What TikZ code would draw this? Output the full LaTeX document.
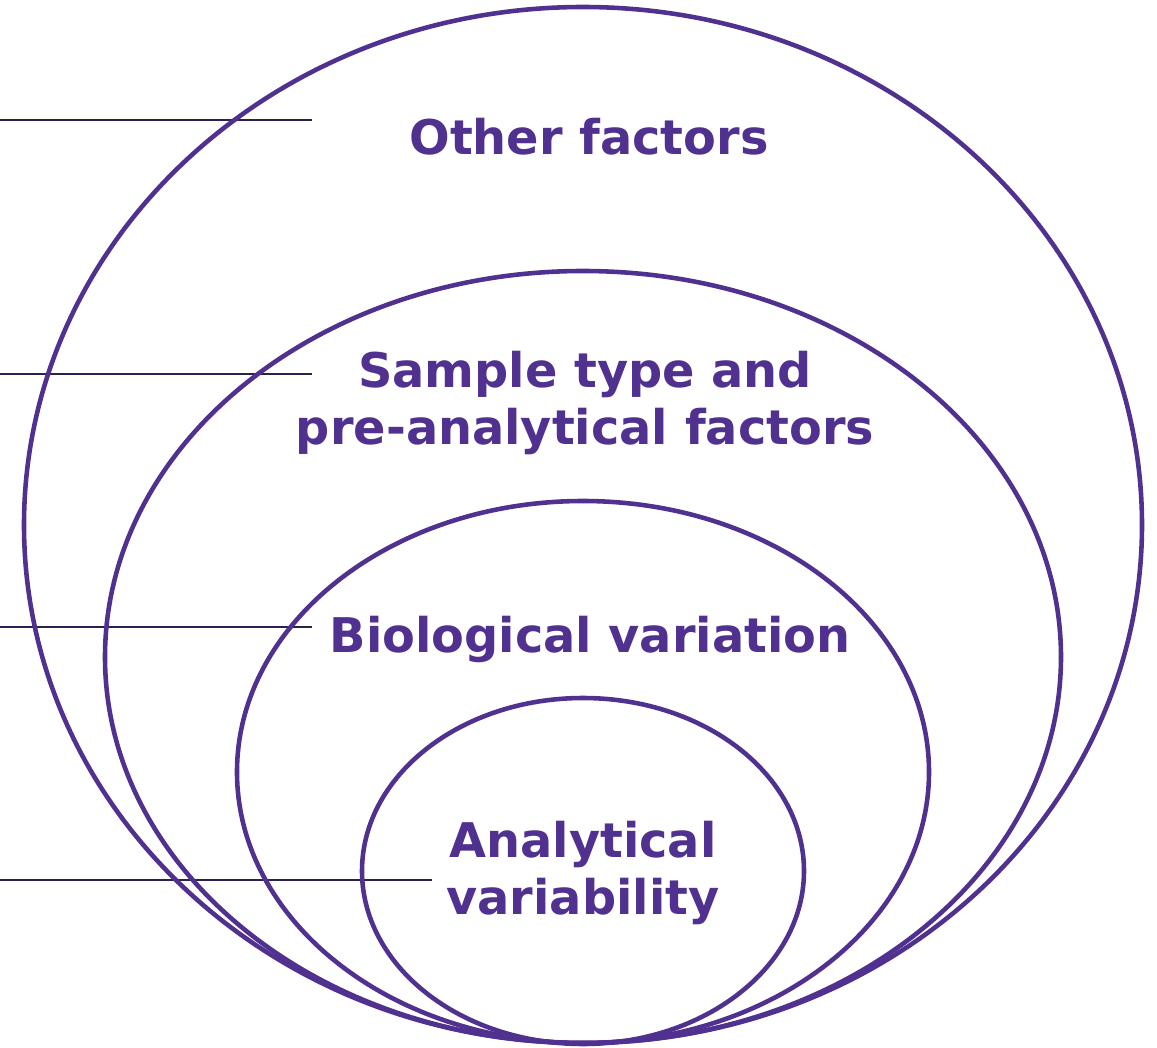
\documentclass[tikz,border=0pt]{standalone}
\usepackage{fontspec}
\setmainfont{DejaVu Sans}
\definecolor{ringpurple}{HTML}{51318F}
\definecolor{leaderline}{HTML}{2B2150}
\tikzset{
  ring/.style={draw=ringpurple, line width=1.3pt},
  leader/.style={draw=leaderline, line width=0.55pt},
  label/.style={text=ringpurple, font=\bfseries\fontsize{13.6}{16}\selectfont, align=center}
}
\begin{document}
\begin{tikzpicture}

  \useasboundingbox (0,0) rectangle (11.57,10.47);

  \coordinate (l1) at (0,9.27);
  \coordinate (l2) at (0,6.73);
  \coordinate (l3) at (0,4.20);
  \coordinate (l4) at (0,1.67);
  \coordinate (e1) at (3.12,9.27);
  \coordinate (e2) at (3.12,6.73);
  \coordinate (e3) at (3.12,4.20);
  \coordinate (e4) at (4.32,1.67);

  \draw[leader] (l1) -- (e1);
  \draw[leader] (l2) -- (e2);
  \draw[leader] (l3) -- (e3);
  \draw[leader] (l4) -- (e4);

  \draw[ring] (5.83,5.22) ellipse [x radius=5.59, y radius=5.18];
  \draw[ring] (5.83,3.90) ellipse [x radius=4.78, y radius=3.86];
  \draw[ring] (5.83,2.75) ellipse [x radius=3.46, y radius=2.71];
  \draw[ring] (5.83,1.76) ellipse [x radius=2.21, y radius=1.73];

  \node[label] (other) at (5.89,9.10) {Other factors};
  \node[label] (sample) at (5.85,6.44) {Sample type and\\pre-analytical factors};
  \node[label] (bio) at (5.90,4.08) {Biological variation};
  \node[label] (analytic) at (5.83,1.74) {Analytical\\variability};

\end{tikzpicture}
\end{document}
